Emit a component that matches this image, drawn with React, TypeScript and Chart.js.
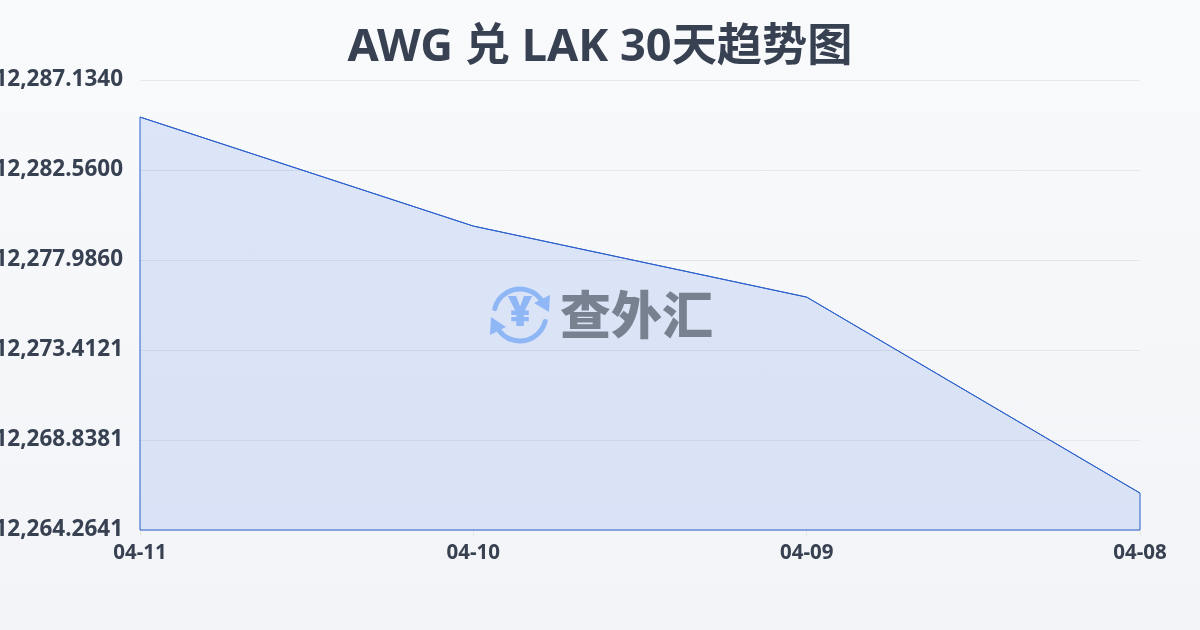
import Chart, { ChartConfiguration, Plugin } from 'chart.js/auto';
import { useEffect, useRef } from 'react';

const titleText = 'AWG 兑 LAK 30天趋势图';
const watermarkText = '查外汇';
const dates = ['04-11', '04-10', '04-09', '04-08'];
const rates = [12285.25, 12279.71, 12276.1, 12266.14];
const yTickValues = [12264.2641, 12268.838, 12273.412, 12277.986, 12282.56, 12287.134];
const yTickLabels = ['12,264.2641', '12,268.8381', '12,273.4121', '12,277.9860', '12,282.5600', '12,287.1340'];

const FONT = '"Noto Sans", "Noto Sans CJK SC", sans-serif';
const TEXT_COLOR = '#374151';
const LINE_COLOR = '#2a5fcb';

// closes the outline down the sides and along the bottom of the area
const outlinePlugin: Plugin<'line'> = {
  id: 'outline',
  afterDatasetsDraw(chart) {
    const pts = chart.getDatasetMeta(0).data;
    const bottom = chart.chartArea.bottom;
    const ctx = chart.ctx;
    ctx.save();
    ctx.strokeStyle = LINE_COLOR;
    ctx.lineWidth = 1;
    ctx.beginPath();
    ctx.moveTo(pts[0].x, bottom);
    pts.forEach((p) => ctx.lineTo(p.x, p.y));
    ctx.lineTo(pts[pts.length - 1].x, bottom);
    ctx.closePath();
    ctx.stroke();
    ctx.restore();
  },
};

const watermarkPlugin: Plugin<'line'> = {
  id: 'watermark',
  afterDraw(chart) {
    const ctx = chart.ctx;
    const cx = 520;
    const cy = 315;
    ctx.save();
    // coin arrows
    ctx.strokeStyle = '#8fb6f5';
    ctx.fillStyle = '#8fb6f5';
    ctx.lineWidth = 5;
    ctx.lineCap = 'round';
    ctx.beginPath();
    ctx.arc(cx, cy, 26, Math.PI * 1.08, Math.PI * 1.85);
    ctx.stroke();
    ctx.beginPath();
    ctx.arc(cx, cy, 26, Math.PI * 0.08, Math.PI * 0.85);
    ctx.stroke();
    ctx.beginPath();
    ctx.moveTo(550, 295);
    ctx.lineTo(549, 312);
    ctx.lineTo(534, 303);
    ctx.closePath();
    ctx.fill();
    ctx.beginPath();
    ctx.moveTo(490, 335);
    ctx.lineTo(491, 317);
    ctx.lineTo(506, 327);
    ctx.closePath();
    ctx.fill();
    // yen sign
    ctx.font = `900 42px ${FONT}`;
    ctx.textAlign = 'center';
    ctx.textBaseline = 'middle';
    ctx.fillText('¥', cx, cy - 1);
    // name
    ctx.fillStyle = '#78818f';
    ctx.font = `900 51px "Noto Sans CJK SC", sans-serif`;
    ctx.textAlign = 'left';
    ctx.fillText(watermarkText, 560, cy);
    ctx.restore();
  },
};

export default function App() {
  const canvasRef = useRef<HTMLCanvasElement>(null);

  useEffect(() => {
    if (!canvasRef.current) return;
    document.body.style.margin = '0';

    const config: ChartConfiguration<'line', number[], string> = {
      type: 'line',
      data: {
        labels: dates,
        datasets: [
          {
            data: rates,
            borderColor: LINE_COLOR,
            borderWidth: 1,
            backgroundColor: 'rgba(37, 99, 235, 0.13)',
            fill: 'start',
            pointRadius: 0,
            tension: 0,
          },
        ],
      },
      options: {
        animation: false,
        responsive: false,
        devicePixelRatio: 1,
        layout: { padding: { bottom: 60 } },
        plugins: {
          legend: { display: false },
          tooltip: { enabled: false },
          title: {
            display: true,
            text: titleText,
            color: TEXT_COLOR,
            font: { family: FONT, size: 45.2, weight: 'bold', lineHeight: 1.2 },
            padding: { top: 21, bottom: 4.76 },
          },
        },
        scales: {
          x: {
            offset: false,
            border: { display: false },
            grid: { drawOnChartArea: false, drawTicks: true, tickLength: 6, color: '#e5e7eb' },
            ticks: {
              color: TEXT_COLOR,
              font: { family: FONT, size: 20.5, weight: 'bold' },
              padding: 5,
              maxRotation: 0,
              autoSkip: false,
            },
            afterFit: (scale) => {
              scale.height = 40;
            },
          },
          y: {
            min: yTickValues[0],
            max: yTickValues[yTickValues.length - 1],
            border: { display: false },
            grid: { drawTicks: false, color: '#e5e7eb' },
            afterBuildTicks: (scale) => {
              scale.ticks = yTickValues.map((value) => ({ value }));
            },
            ticks: {
              color: TEXT_COLOR,
              font: { family: FONT, size: 22.5, weight: 'bold' },
              padding: 17,
              labelOffset: 0,
              autoSkip: false,
              callback: (_value, index) => yTickLabels[index],
            },
            afterFit: (scale) => {
              scale.width = 140;
            },
          },
          // empty axis: holds the right margin so the title stays centred on the page
          rightGap: {
            axis: 'y',
            position: 'right',
            border: { display: false },
            grid: { display: false },
            ticks: { display: false },
            afterFit: (scale) => {
              scale.width = 60;
            },
          },
        },
      },
      plugins: [outlinePlugin, watermarkPlugin],
    };

    const chart = new Chart(canvasRef.current, config);
    return () => {
      chart.destroy();
    };
  }, []);

  return (
    <div style={{ width: 1200, height: 630, background: 'linear-gradient(180deg, #f9fafc 0%, #f3f4f7 100%)' }}>
      <canvas ref={canvasRef} width={1200} height={630} style={{ display: 'block' }} />
    </div>
  );
}
